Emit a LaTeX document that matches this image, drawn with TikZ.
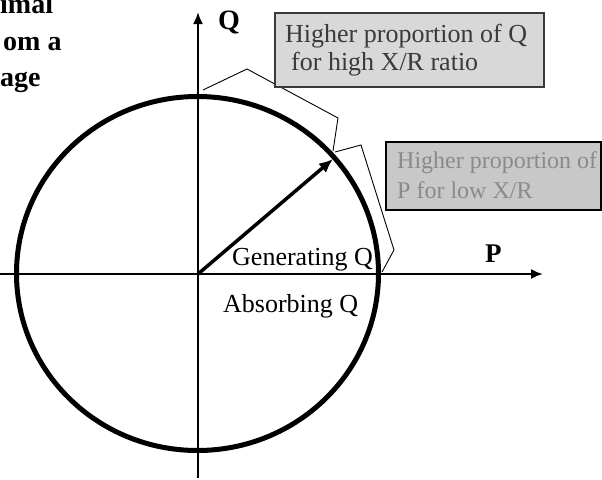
\documentclass[tikz,border=0pt]{standalone}
\usepackage{fontspec}
\setmainfont{Liberation Serif}
\usetikzlibrary{arrows.meta}
\definecolor{boxa}{HTML}{D8D8D8}
\definecolor{boxb}{HTML}{C8C8C8}
\definecolor{txta}{HTML}{3A3A3A}
\definecolor{txtb}{HTML}{8A8A8A}
\tikzset{
  axis/.style={line width=2pt,-{Latex[length=12pt,width=10pt]}},
  vec/.style={line width=3.5pt,-{Latex[length=14pt,width=12pt]}},
  brace/.style={line width=0.9pt,line join=miter},
  lbl/.style={anchor=base west,inner sep=0pt,font=\fontsize{26}{30}\selectfont},
  biglbl/.style={anchor=base west,inner sep=0pt,font=\fontsize{28}{32}\selectfont\bfseries},
  boxone/.style={draw=txta,fill=boxa,line width=1.5pt,anchor=north west,inner sep=0pt},
  boxtwo/.style={draw=black,fill=boxb,line width=1.5pt,anchor=north west,inner sep=0pt},
}
\begin{document}
\begin{tikzpicture}[x=1pt,y=-1pt]
\useasboundingbox (0,0) rectangle (602,479);
\fill[white] (0,0) rectangle (602,479);
% title fragments
\node[biglbl] (t1) at (0,13) {imal};
\node[biglbl] (t2) at (3,50) {om a};
\node[biglbl] (t3) at (0,86) {age};
% axes
\coordinate (o) at (198,274);
\coordinate (xs) at (0,274);
\coordinate (xe) at (543,274);
\coordinate (ys) at (198,478);
\coordinate (ye) at (198,12);
\draw[axis] (xs) -- (xe);
\draw[axis] (ys) -- (ye);
% circle
\draw[line width=5pt] (197.5,273.5) ellipse [x radius=181, y radius=177];
% vector
\coordinate (vt) at (333,159);
\draw[vec] (o) -- (vt);
% braces
\coordinate (a1) at (203,90);
\coordinate (a2) at (247,69);
\coordinate (a3) at (338,118);
\coordinate (a4) at (333,151);
\coordinate (b1) at (335,152);
\coordinate (b2) at (361,145);
\coordinate (b3) at (394,250);
\coordinate (b4) at (382,272);
\draw[brace] (a1) -- (a2) -- (a3) -- (a4);
\draw[brace] (b1) -- (b2) -- (b3) -- (b4);
% boxes
\node[boxone,minimum width=269pt,minimum height=74pt] (bx1) at (274,12) {};
\node[boxtwo,minimum width=215pt,minimum height=68pt] (bx2) at (385,141) {};
\node[lbl,text=txta] (l1) at (285,42) {Higher proportion of Q};
\node[lbl,text=txta] (l2) at (291,70) {for high X/R ratio};
\node[lbl,text=txtb,font=\fontsize{24}{28}\selectfont] (m1) at (397,168) {Higher proportion of};
\node[lbl,text=txtb,font=\fontsize{24}{28}\selectfont] (m2) at (397,198) {P for low X/R};
% labels
\node[lbl] (gen) at (232,265) {Generating Q};
\node[lbl] (abs) at (223,312) {Absorbing Q};
\node[biglbl] (q) at (218,29) {Q};
\node[biglbl,font=\fontsize{27}{32}\selectfont\bfseries] (p) at (485,262) {P};
\end{tikzpicture}
\end{document}
